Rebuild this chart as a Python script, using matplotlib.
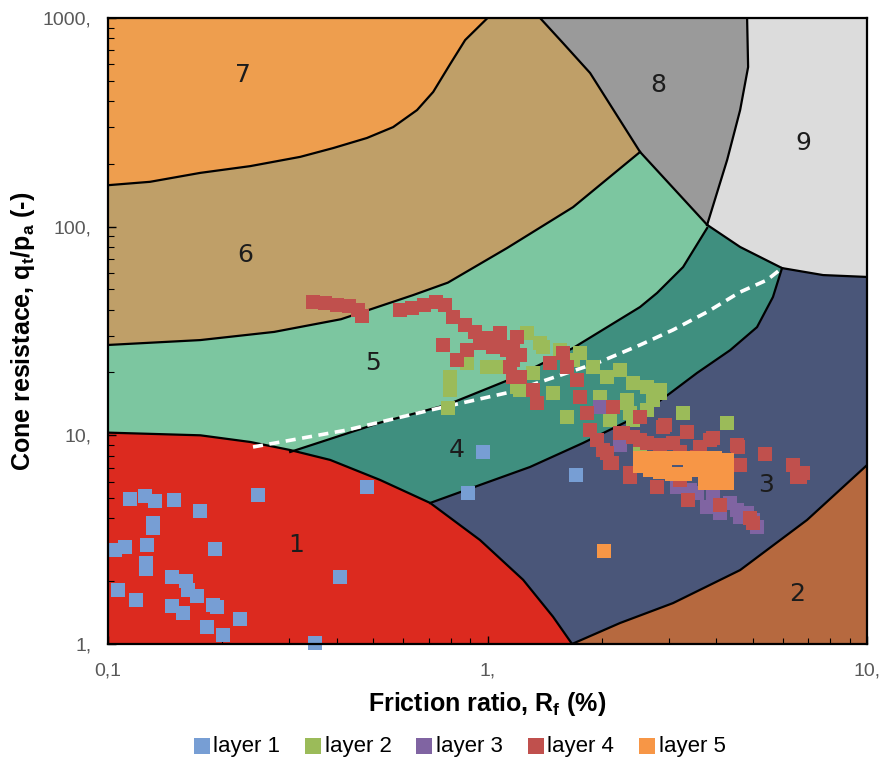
import numpy as np
import matplotlib.pyplot as plt
from matplotlib.ticker import LogLocator, NullFormatter

plt.rcParams['font.family'] = ['Liberation Sans', 'DejaVu Sans']
plt.rcParams['mathtext.fontset'] = 'custom'
plt.rcParams['mathtext.rm'] = 'Liberation Sans'
plt.rcParams['mathtext.bf'] = 'Liberation Sans:bold'

# Límites de la carta SBT
RF_MIN, RF_MAX = 0.1, 10.0
Q_MIN, Q_MAX = 1.0, 1000.0

# Fronteras entre zonas (Rf en %, qt/pa)
b76_rf = [0.1, 0.129, 0.175, 0.237, 0.321, 0.392, 0.481, 0.564, 0.652, 0.719, 0.797, 0.873, 1.0]
b76_q = [158, 164, 181, 195, 216, 238, 266, 300, 362, 442, 601, 784, 1000]

b65_rf = [0.1, 0.175, 0.274, 0.411, 0.637, 0.786, 1.126, 1.68, 2.523]
b65_q = [27.1, 28.6, 31.3, 36.0, 47.0, 53.9, 79.0, 124, 228]

b54_rf = [0.302, 0.521, 0.782, 1.168, 1.68, 2.523, 2.797, 3.275, 3.79]
b54_q = [8.32, 11.5, 14.0, 18.8, 26.2, 41.2, 48.1, 64.0, 98.5]

b43_rf = [0.706, 0.955, 1.294, 1.785, 2.523, 3.026, 3.565, 4.36, 5.13, 5.65, 5.97]
b43_q = [4.74, 5.78, 7.05, 9.19, 12.5, 15.9, 19.9, 25.6, 33.0, 46.0, 63.3]

b1_rf = [0.1, 0.175, 0.237, 0.302, 0.385, 0.521, 0.706, 0.955, 1.241, 1.488, 1.67]
b1_q = [10.3, 10.0, 9.29, 8.5, 7.62, 6.11, 4.74, 3.15, 2.03, 1.35, 1.0]

b32_rf = [1.67, 2.234, 3.082, 4.63, 6.95, 10.0]
b32_q = [1.0, 1.26, 1.57, 2.26, 3.93, 7.20]

b9_rf = [3.79, 4.63, 5.97, 7.66, 10.0]
b9_q = [102, 79.9, 63.3, 58.6, 57.4]

b89_rf = [4.83, 4.86, 4.63, 4.28, 3.79]
b89_q = [1000, 582, 362, 209, 102]

b8_rf = [1.375, 1.581, 1.863, 2.523, 3.79]
b8_q = [1000, 758, 545, 228, 102]

# Línea discontinua blanca
dash_rf = [0.241, 0.426, 0.706, 1.146, 1.979, 2.523, 3.082, 3.79, 4.63, 5.45, 5.97]
dash_q = [8.79, 10.6, 13.2, 16.1, 22.5, 27.1, 32.0, 39.0, 48.6, 55.5, 63.3]

# Etiquetas de zona
zone_ids = ['1', '2', '3', '4', '5', '6', '7', '8', '9']
zone_lab_rf = [0.313, 6.54, 5.42, 0.831, 0.499, 0.230, 0.227, 2.81, 6.78]
zone_lab_q = [2.98, 1.74, 5.78, 8.50, 22.2, 73.1, 533, 477, 252]

zone_colors = {
    '1': '#dc2a1f', '2': '#b6693f', '3': '#4a5679', '4': '#3f8f7f',
    '5': '#7cc6a0', '6': '#bf9f68', '7': '#ee9e4e', '8': '#9a9a9a', '9': '#dcdcdc',
}

# Datos CPT por capa
l1_rf = [0.114, 0.125, 0.133, 0.149, 0.175, 0.248, 0.481, 0.131, 0.131, 0.104, 0.111,
         0.127, 0.126, 0.126, 0.191, 0.147, 0.160, 0.162, 0.172, 0.106, 0.1185, 0.147,
         0.158, 0.189, 0.194, 0.223, 0.182, 0.201, 0.409, 0.351, 0.973, 0.889, 1.71]
l1_q = [4.95, 5.12, 4.84, 4.90, 4.34, 5.17, 5.65, 3.80, 3.60, 2.82, 2.92,
        2.98, 2.44, 2.29, 2.85, 2.09, 2.00, 1.81, 1.70, 1.81, 1.62, 1.52,
        1.41, 1.54, 1.50, 1.32, 1.21, 1.10, 2.09, 1.01, 8.32, 5.29, 6.45]

l2_rf = [0.797, 0.797, 0.787, 0.883, 0.997, 1.126, 1.196, 1.079, 1.218, 1.400, 1.318,
         1.488, 1.620, 1.753, 1.897, 2.065, 2.234, 2.418, 2.633, 2.848, 1.979, 2.331,
         2.633, 3.275, 2.103, 2.418, 2.523, 4.276, 2.331, 2.730, 2.848, 2.375, 1.271,
         1.375, 1.552, 1.680]
l2_q = [19.0, 16.5, 13.5, 22.2, 21.2, 21.2, 17.0, 21.2, 16.5, 26.5, 19.9,
        15.9, 12.2, 24.8, 21.2, 19.0, 20.6, 17.8, 17.0, 15.9, 15.3, 14.8,
        13.2, 12.8, 11.8, 11.8, 8.79, 11.5, 14.3, 14.8, 16.5, 12.8, 30.9,
        27.7, 25.6, 22.9]

l3_rf = [1.98, 2.23, 3.16, 3.57, 3.93, 4.36, 4.54, 4.83, 4.10, 4.63, 5.01, 5.13, 3.79, 3.42]
l3_q = [13.7, 9.0, 5.65, 5.29, 5.06, 4.74, 4.39, 4.24, 4.24, 4.06, 3.93, 3.64, 4.53, 5.47]

l4_rf = [0.347, 0.373, 0.401, 0.432, 0.456, 0.467, 0.588, 0.632, 0.680, 0.732, 0.773,
         0.811, 0.873, 0.927, 1.003, 1.079, 1.168, 1.218, 0.763, 0.831, 0.883, 0.955,
         1.034, 1.126, 1.168, 1.168, 1.079, 1.196, 1.146, 1.218, 1.318, 1.350, 1.461,
         1.581, 1.620, 1.721, 1.753, 1.829, 1.863, 1.944, 2.065, 2.103, 2.375, 2.141,
         2.523, 2.234, 2.418, 2.633, 2.901, 3.082, 3.356, 3.631, 3.858, 2.797, 3.216,
         2.936, 4.54, 5.39, 6.38, 6.54, 4.63, 2.375, 3.376, 4.10, 4.92, 5.01, 2.275,
         2.523, 2.848, 3.216, 3.565, 6.78, 6.66, 4.57, 3.929, 2.129, 2.016]
l4_q = [43.5, 43.1, 42.1, 41.6, 39.8, 37.3, 39.8, 40.7, 42.1, 43.5, 42.1,
        36.9, 33.8, 31.3, 29.3, 28.6, 26.5, 24.3, 27.1, 22.9, 25.6, 27.7,
        26.5, 25.6, 22.9, 19.0, 30.9, 29.6, 21.2, 19.0, 16.5, 14.3, 22.2,
        24.8, 21.2, 18.4, 15.3, 12.8, 10.6, 9.49, 8.23, 7.37, 6.60, 13.7,
        12.2, 10.3, 9.81, 9.19, 11.0, 9.19, 10.4, 8.79, 9.49, 5.65, 6.11,
        11.2, 8.98, 8.14, 7.20, 6.31, 7.20, 6.31, 4.90, 4.63, 4.02, 3.80, 10.3,
        9.49, 8.98, 8.32, 7.87, 6.60, 6.31, 8.79, 9.70, 7.37, 8.50]

l5_rf = [2.03, 2.52, 2.52, 2.68, 2.68, 2.85, 2.85, 3.06, 3.06, 3.31, 3.31, 3.57, 3.57,
         3.74, 3.74, 3.74, 3.98, 3.98, 3.98, 4.28, 4.28, 4.28, 2.94, 3.42]
l5_q = [2.79, 7.79, 7.13, 7.79, 6.82, 7.79, 6.67, 7.79, 6.53, 7.79, 6.53, 7.79, 6.82,
        7.79, 6.82, 5.91, 7.79, 6.82, 5.91, 7.62, 6.67, 5.91, 7.13, 7.13]

layers = [
    ('layer 1', l1_rf, l1_q, '#779ed4'),
    ('layer 2', l2_rf, l2_q, '#9bbb59'),
    ('layer 3', l3_rf, l3_q, '#8064a2'),
    ('layer 4', l4_rf, l4_q, '#c0504d'),
    ('layer 5', l5_rf, l5_q, '#f79646'),
]

fig = plt.figure(figsize=(8.87, 7.62), dpi=100)
ax = fig.add_axes([0.1218, 0.1549, 0.8557, 0.8215])
ax.set_xscale('log')
ax.set_yscale('log')
ax.set_xlim(RF_MIN, RF_MAX)
ax.set_ylim(Q_MIN, Q_MAX)
ax.set_facecolor(zone_colors['7'])

# Zonas pintadas de arriba a abajo; 1, 2, 8 y 9 encima
ax.fill(b76_rf + [RF_MAX, RF_MAX, RF_MIN], b76_q + [Q_MAX, Q_MIN, Q_MIN],
        color=zone_colors['6'], lw=0)
ax.fill(b65_rf + [3.42, RF_MAX, RF_MAX, RF_MIN], b65_q + [Q_MAX, Q_MAX, Q_MIN, Q_MIN],
        color=zone_colors['5'], lw=0)
ax.fill([RF_MIN] + b54_rf + [6.0, RF_MAX, RF_MAX, RF_MIN],
        [6.0] + b54_q + [Q_MAX, Q_MAX, Q_MIN, Q_MIN],
        color=zone_colors['4'], lw=0)
ax.fill([RF_MIN] + b43_rf + [RF_MAX, RF_MAX, RF_MIN],
        [3.0] + b43_q + [134, Q_MIN, Q_MIN],
        color=zone_colors['3'], lw=0)
ax.fill(b32_rf + [RF_MAX], b32_q + [Q_MIN], color=zone_colors['2'], lw=0)
ax.fill(b1_rf + [RF_MIN], b1_q + [Q_MIN], color=zone_colors['1'], lw=0)
ax.fill(b89_rf + b9_rf[1:] + [RF_MAX], b89_q + b9_q[1:] + [Q_MAX],
        color=zone_colors['9'], lw=0)
ax.fill(b8_rf + b89_rf[::-1], b8_q + b89_q[::-1], color=zone_colors['8'], lw=0)

for brf, bq in [(b76_rf, b76_q), (b65_rf, b65_q), (b54_rf, b54_q), (b43_rf, b43_q),
                (b1_rf, b1_q), (b32_rf, b32_q), (b9_rf, b9_q), (b89_rf, b89_q),
                (b8_rf, b8_q)]:
    ax.plot(brf, bq, color='black', lw=1.6, solid_joinstyle='round', zorder=2)

ax.plot(dash_rf, dash_q, color='white', lw=2.6, linestyle=(0, (2.8, 1.8)), zorder=3)

for zid, zx, zy in zip(zone_ids, zone_lab_rf, zone_lab_q):
    ax.text(zx, zy, zid, fontsize=18, color='#1c1c1c', ha='center', va='center',
            family='DejaVu Sans', zorder=3)

handles = []
for name, xs, ys, col in layers:
    h = ax.scatter(xs, ys, s=88, marker='s', color=col, linewidths=0, label=name,
                   zorder=4, clip_on=False)
    handles.append(h)

ax.set_xticks([0.1, 1, 10])
ax.set_xticklabels(['0,1', '1,', '10,'])
ax.set_yticks([1, 10, 100, 1000])
ax.set_yticklabels(['1,', '10,', '100,', '1000,'])
ax.xaxis.set_minor_locator(LogLocator(base=10, subs=np.arange(2, 10)))
ax.yaxis.set_minor_locator(LogLocator(base=10, subs=np.arange(2, 10)))
ax.xaxis.set_minor_formatter(NullFormatter())
ax.yaxis.set_minor_formatter(NullFormatter())
ax.tick_params(which='both', direction='in', colors='black', labelcolor='#595959',
               labelsize=14)
ax.tick_params(which='major', length=6, width=1)
ax.tick_params(which='minor', length=4, width=0.8)
ax.tick_params(axis='x', pad=13)
ax.tick_params(axis='y', pad=12)
for sp in ax.spines.values():
    sp.set_linewidth(1.6)
    sp.set_zorder(5)

ax.set_xlabel(r'Friction ratio, R$_{\mathbf{f}}$ (%)', fontsize=18, fontweight='bold',
              labelpad=8)
ax.set_ylabel(r'Cone resistace, q$_{\mathbf{t}}$/p$_{\mathbf{a}}$ (-)', fontsize=18,
              fontweight='bold', labelpad=4)

fig.legend(handles, [h.get_label() for h in handles], loc='center',
           bbox_to_anchor=(0.518, 0.02), ncol=5, frameon=False, fontsize=16,
           handletextpad=0.15, columnspacing=1.1, handlelength=0.75, borderaxespad=0,
           markerscale=1.25)

fig.savefig('out.png', dpi=100)
